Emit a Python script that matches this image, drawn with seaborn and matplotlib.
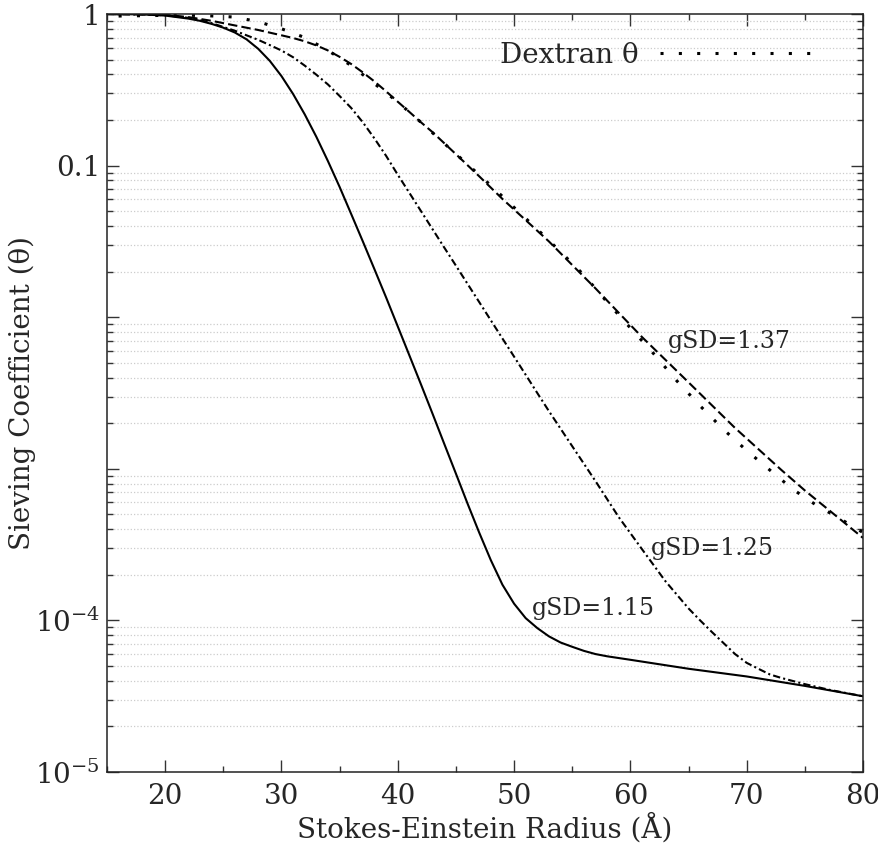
import numpy as np
import pandas as pd
import matplotlib
matplotlib.use("Agg")
import matplotlib.pyplot as plt
import matplotlib.ticker as mticker
import seaborn as sns

# Stokes-Einstein radius (A) and sieving coefficients
radius_115 = [15, 18, 20, 22, 23, 24, 25, 26, 27, 28, 29, 30, 31, 32, 33, 34, 35, 36, 37, 38, 39, 40, 41, 42, 43,
              44, 45, 46, 47, 48, 49, 50, 51, 52, 53, 54, 55, 56, 57, 58, 60, 65, 70, 75, 80]
theta_115 = [1.0, 0.995, 0.977, 0.933, 0.902, 0.861, 0.813, 0.755, 0.681, 0.59, 0.491, 0.39, 0.297, 0.218, 0.155,
             0.107, 0.0724, 0.0479, 0.0316, 0.0207, 0.0135, 8.7e-3, 5.6e-3, 3.6e-3, 2.3e-3, 1.46e-3, 9.3e-4,
             5.9e-4, 3.8e-4, 2.5e-4, 1.72e-4, 1.29e-4, 1.035e-4, 8.9e-5, 7.85e-5, 7.15e-5, 6.7e-5, 6.3e-5,
             6.0e-5, 5.8e-5, 5.5e-5, 4.8e-5, 4.27e-5, 3.7e-5, 3.16e-5]

radius_125 = [15, 18, 20, 22, 23, 24, 25, 26, 27, 28, 29, 30, 31, 32, 33, 34, 35, 36, 37, 38, 39, 40, 41, 42, 43,
              44, 45, 46, 47, 48, 49, 50, 51, 52, 53, 55, 57, 59, 61, 63, 65, 66, 67, 68, 69, 70, 71, 72, 73, 75,
              77, 80]
theta_125 = [1.0, 0.993, 0.982, 0.944, 0.912, 0.871, 0.822, 0.776, 0.724, 0.676, 0.624, 0.575, 0.519, 0.457,
             0.398, 0.343, 0.288, 0.240, 0.193, 0.151, 0.116, 0.0871, 0.0661, 0.0501, 0.038, 0.0288, 0.0219,
             0.0166, 0.0126, 9.55e-3, 7.24e-3, 5.5e-3, 4.17e-3, 3.16e-3, 2.4e-3, 1.41e-3, 8.3e-4, 4.8e-4,
             2.95e-4, 1.82e-4, 1.2e-4, 1.0e-4, 8.4e-5, 7.1e-5, 6.0e-5, 5.25e-5, 4.8e-5, 4.4e-5, 4.17e-5,
             3.8e-5, 3.5e-5, 3.16e-5]

radius_137 = [15, 18, 20, 22, 24, 26, 28, 30, 31, 32, 33, 34, 35, 36, 37, 38, 39, 40, 41, 42, 43, 45, 47, 49, 51,
              53, 55, 57, 59, 61, 63, 65, 67, 69, 71, 73, 75, 77, 80]
theta_137 = [1.0, 0.995, 0.989, 0.955, 0.902, 0.841, 0.785, 0.724, 0.695, 0.661, 0.621, 0.575, 0.522, 0.468,
             0.412, 0.359, 0.309, 0.264, 0.226, 0.193, 0.166, 0.119, 0.0851, 0.0603, 0.0437, 0.0316, 0.0221,
             0.0155, 0.0107, 7.4e-3, 5.25e-3, 3.72e-3, 2.63e-3, 1.86e-3, 1.35e-3, 9.8e-4, 7.2e-4, 5.4e-4, 3.5e-4]

radius_dex = [16, 20, 23, 26, 28, 30, 32, 34, 36, 38, 40, 42, 44, 46, 48, 50, 52, 54, 56, 58, 60, 62, 64, 66, 68,
              70, 72, 74, 76, 78, 80]
theta_dex = [0.97, 0.98, 0.98, 0.955, 0.89, 0.80, 0.70, 0.575, 0.457, 0.347, 0.263, 0.193, 0.14, 0.102, 0.074,
             0.053, 0.038, 0.027, 0.019, 0.0126, 8.5e-3, 5.75e-3, 3.8e-3, 2.6e-3, 1.82e-3, 1.32e-3, 9.8e-4,
             7.3e-4, 5.75e-4, 4.7e-4, 3.8e-4]

ytick_vals = [1e-5, 1e-4, 1e-3, 1e-2, 0.1, 1]
ytick_labels = ["$10^{-5}$", "$10^{-4}$", "", "", "0.1", "1"]

sns.set_theme(style="ticks")
plt.rcParams["font.family"] = ["DejaVu Serif"]
plt.rcParams["mathtext.fontset"] = "dejavuserif"

fig = plt.figure(figsize=(8.79, 8.51), dpi=100)
ax = fig.add_axes([0.1217, 0.0928, 0.8601, 0.8907])

lw = 1.5
sns.lineplot(x=radius_115, y=theta_115, ax=ax, color="black", linewidth=lw, linestyle="-")
sns.lineplot(x=radius_125, y=theta_125, ax=ax, color="black", linewidth=lw, linestyle=(0, (3.5, 1.5, 1, 1.5)))
sns.lineplot(x=radius_137, y=theta_137, ax=ax, color="black", linewidth=lw, linestyle=(0, (4.5, 2)))
sns.lineplot(x=radius_dex, y=theta_dex, ax=ax, color="black", linewidth=2.2, linestyle=(0, (1, 5)),
             label="Dextran θ")

ax.set_yscale("log")
ax.set_xlim(15, 80)
ax.set_ylim(1e-5, 1.0)

ax.yaxis.set_major_locator(mticker.FixedLocator(ytick_vals))
ax.yaxis.set_major_formatter(mticker.FixedFormatter(ytick_labels))
ax.yaxis.set_minor_locator(mticker.LogLocator(base=10, subs=np.arange(2, 10), numticks=20))
ax.yaxis.set_minor_formatter(mticker.NullFormatter())
ax.xaxis.set_major_locator(mticker.MultipleLocator(10))
ax.xaxis.set_minor_locator(mticker.MultipleLocator(5))

ax.tick_params(which="both", direction="in", top=True, right=True, labelsize=20, width=1, color="#333333")
ax.tick_params(which="major", length=8.5, pad=5)
ax.tick_params(axis="x", which="major", pad=8)
ax.tick_params(which="minor", length=4.3)
ax.grid(False)
ax.yaxis.grid(True, which="minor", linestyle=":", color="#cccccc", linewidth=0.9)
for s in ax.spines.values():
    s.set_linewidth(1.1)
    s.set_color("#222222")

ax.set_xlabel("Stokes-Einstein Radius (Å)", fontsize=20, labelpad=2)
ax.set_ylabel("Sieving Coefficient (θ)", fontsize=20, labelpad=-1)

ax.text(63.2, 6.9e-3, "gSD=1.37", fontsize=17, va="center", ha="left")
ax.text(61.75, 3.0e-4, "gSD=1.25", fontsize=17, va="center", ha="left")
ax.text(51.5, 1.2e-4, "gSD=1.15", fontsize=17, va="center", ha="left")

ax.legend(loc="upper right", frameon=False, fontsize=20, markerfirst=False, handlelength=5.5,
          handletextpad=0.75, borderaxespad=0.6, bbox_to_anchor=(0.97, 1.0))

plt.savefig("out.png", dpi=100)
plt.close()
